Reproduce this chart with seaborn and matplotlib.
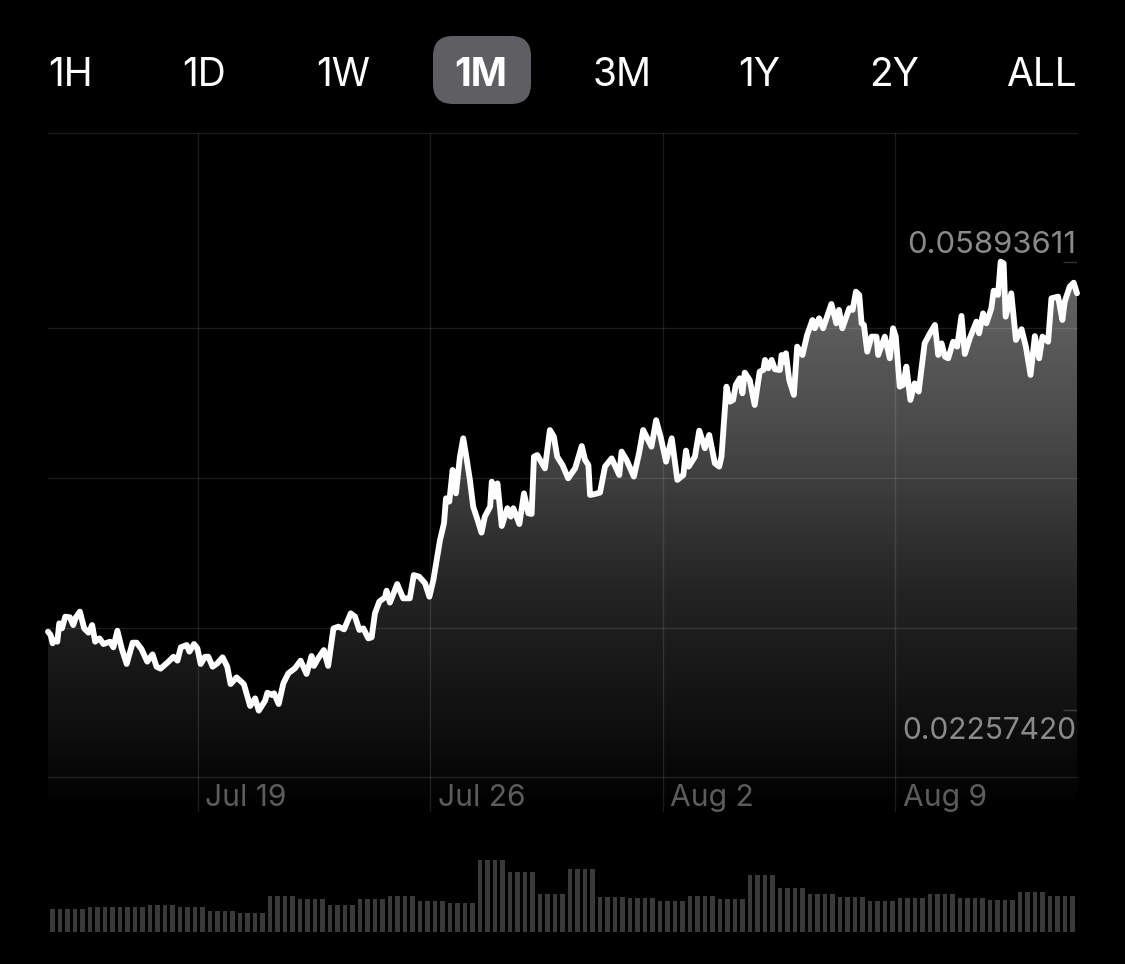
import numpy as np
import matplotlib
matplotlib.use('Agg')
import matplotlib.pyplot as plt
from matplotlib.colors import LinearSegmentedColormap
from matplotlib.patches import FancyBboxPatch
import seaborn as sns

# range buttons across the top
range_labels = ['1H', '1D', '1W', '1M', '3M', '1Y', '2Y', 'ALL']
selected_range = '1M'

# days since Jul 19
days = [
    -4.52, -4.44, -4.38, -4.32, -4.24, -4.18, -4.10, -4.00, -3.86, -3.76, -3.68, -3.56, -3.43, -3.30,
    -3.19, -3.10, -2.97, -2.85, -2.65, -2.55, -2.43, -2.30, -2.15, -1.97, -1.85, -1.70, -1.53, -1.37,
    -1.25, -1.13, -0.89, -0.74, -0.62, -0.52, -0.34, -0.26, -0.12, -0.02, 0.08, 0.21, 0.31, 0.44,
    0.58, 0.74, 0.88, 0.98, 1.16, 1.38, 1.57, 1.72, 1.83, 2.02, 2.09, 2.22, 2.29, 2.43, 2.57, 2.72,
    2.92, 3.09, 3.27, 3.42, 3.49, 3.62, 3.79, 3.92, 4.08, 4.23, 4.40, 4.60, 4.73, 4.86, 4.98, 5.13,
    5.23, 5.33, 5.46, 5.63, 5.68, 5.78, 6.00, 6.18, 6.38, 6.50, 6.66, 6.84, 6.97, 7.09, 7.19, 7.29,
    7.41, 7.47, 7.57, 7.67, 7.77, 7.89, 7.99, 8.09, 8.19, 8.29, 8.39, 8.54, 8.64, 8.80, 8.85, 8.95,
    9.02, 9.15, 9.32, 9.42, 9.50, 9.68, 9.82, 9.95, 10.05, 10.12, 10.22, 10.45, 10.60, 10.72, 10.82,
    10.98, 11.15, 11.36, 11.56, 11.66, 11.76, 11.81, 11.96, 12.11, 12.26, 12.46, 12.69, 12.76, 12.91,
    13.13, 13.29, 13.41, 13.66, 13.80, 13.94, 14.10, 14.27, 14.44, 14.62, 14.70, 14.78, 14.97, 15.10,
    15.27, 15.40, 15.57, 15.70, 15.77, 15.92, 16.02, 16.12, 16.20, 16.32, 16.40, 16.47, 16.62, 16.77,
    16.92, 17.03, 17.08, 17.18, 17.28, 17.38, 17.53, 17.58, 17.65, 17.71, 17.81, 17.95, 18.05, 18.21,
    18.35, 18.51, 18.58, 18.71, 18.83, 19.08, 19.23, 19.31, 19.41, 19.62, 19.72, 19.82, 19.92, 19.99,
    20.06, 20.16, 20.29, 20.44, 20.49, 20.69, 20.84, 20.94, 21.02, 21.14, 21.24, 21.34, 21.46, 21.59,
    21.71, 21.89, 22.05, 22.20, 22.30, 22.40, 22.50, 22.60, 22.75, 22.87, 23.00, 23.10, 23.25, 23.45,
    23.53, 23.65, 23.75, 23.90, 23.97, 24.10, 24.18, 24.27, 24.33, 24.50, 24.64, 24.81, 24.94, 25.08,
    25.21, 25.34, 25.44, 25.61, 25.71, 25.91, 26.04, 26.11, 26.26, 26.38, 26.48,
]

# price x 1000
prices = [
    28.93, 28.66, 27.99, 28.26, 28.12, 29.61, 29.20, 30.15, 30.10, 29.47, 30.10, 30.56, 29.20, 28.85,
    29.47, 28.12, 28.39, 27.93, 28.12, 27.66, 29.01, 27.58, 26.31, 28.04, 28.04, 27.50, 26.50, 27.09,
    26.09, 25.93, 26.50, 26.90, 26.58, 27.66, 27.85, 27.31, 27.93, 27.58, 26.31, 26.90, 26.90, 26.09,
    26.36, 26.85, 26.09, 24.68, 25.22, 24.68, 22.90, 23.52, 22.52, 23.33, 23.98, 23.79, 23.93, 23.06, 24.74, 25.55,
    25.96, 26.58, 25.50, 26.96, 26.15, 26.77, 27.44, 26.15, 29.20, 29.34, 29.12, 30.42, 30.15, 29.07, 29.20, 28.39,
    28.47, 30.42, 31.37, 31.72, 32.26, 31.29, 32.80, 31.64, 31.64, 33.53, 33.40, 32.86, 31.77, 33.13, 34.75, 36.37,
    37.73, 39.76, 39.49, 42.06, 40.16, 43.14, 44.63, 43.00, 41.25, 39.08, 38.27, 36.97, 38.27, 39.08, 41.11, 39.89,
    40.97, 37.51, 38.95, 38.27, 38.95, 37.67, 40.16, 38.54, 38.49, 43.14, 43.27, 42.19, 45.30, 44.76, 43.14,
    42.46, 41.38, 42.19, 44.00, 42.87, 42.46, 40.03, 40.11, 40.22, 42.33, 43.00, 41.65, 43.55, 42.87,
    41.52, 43.46, 45.30, 43.95, 46.10, 44.71, 42.73, 44.63, 41.25, 41.65, 43.63, 42.33, 43.14, 45.25,
    43.82, 44.90, 42.60, 42.33, 43.14, 48.82, 47.60, 47.74, 48.96, 49.50, 48.28, 49.96, 49.36, 47.33,
    50.04, 50.17, 50.99, 50.31, 50.99, 50.23, 50.17, 51.39, 50.85, 51.53, 49.36, 48.15, 52.07, 51.39,
    53.02, 54.23, 53.56, 54.37, 53.56, 55.53, 53.96, 55.05, 53.56, 55.18, 55.05, 56.53, 56.26, 53.96,
    53.83, 51.66, 52.88, 52.88, 51.39, 52.88, 51.12, 53.56, 52.88, 48.82, 48.96, 50.45, 47.74, 49.09,
    48.42, 52.34, 53.15, 53.83, 51.39, 52.34, 51.26, 51.12, 52.47, 52.07, 54.56, 51.47, 52.75, 54.10,
    53.15, 54.77, 53.96, 55.18, 56.61, 56.26, 58.97, 58.83, 54.50, 56.40, 52.61, 53.48, 52.07, 49.77,
    52.93, 51.12, 52.88, 52.47, 55.99, 56.13, 54.23, 55.72, 56.94, 57.26, 56.40,
]

# volume comes in runs of equal bars
volume_levels = [
    23.0, 24.6, 25.3, 27.0, 25.3, 21.2, 19.5, 36.2, 33.0, 27.0, 33.0, 36.5, 30.7, 28.7, 72.0, 60.0, 38.0,
    63.0, 35.5, 34.0, 31.0, 36.0, 32.8, 56.6, 44.4, 38.0, 35.0, 31.4, 34.5, 38.0, 34.0, 32.0, 40.0, 36.0,
]
volume_runs = [5] + [4] * 33

# labels
grid_days = [0, 7, 14, 21]
day_labels = ['Jul 19', 'Jul 26', 'Aug 2', 'Aug 9']
grid_prices = [17.14, 29.23, 41.40, 53.58, 69.41]
high_price = 58.936
low_price = 22.574
high_label = '0.05893611'
low_label = '0.02257420'

W, H = 1125, 964


def px_axes(fig, left, top, right, bottom):
    return fig.add_axes([left / W, 1 - bottom / H, (right - left) / W, (bottom - top) / H])


sns.set_theme(style='dark', rc={'axes.facecolor': 'black', 'figure.facecolor': 'black'})
plt.rcParams['font.family'] = ['Inter', 'DejaVu Sans']

fig = plt.figure(figsize=(W / 100, H / 100), dpi=100)

# price chart
ax = px_axes(fig, 48, 133, 1077, 812)
ax.set_xlim(days[0], days[-1])
ax.set_ylim(14.295, 69.41)

shade = LinearSegmentedColormap.from_list('shade', [
    (0.0, '#000000'), (0.135, '#101010'), (0.327, '#242424'),
    (0.563, '#4a4a4a'), (0.798, '#666666'), (1.0, '#747474')])
img = ax.imshow(np.linspace(1, 0, 256).reshape(-1, 1), cmap=shade, vmin=0, vmax=1, aspect='auto',
                extent=[days[0], days[-1], 14.295, 69.41], zorder=1)
area = ax.fill_between(days, prices, 14.295, color='none', zorder=1)
img.set_clip_path(area.get_paths()[0], transform=ax.transData)

for d in grid_days:
    ax.axvline(d, color='white', alpha=0.11, lw=1.0, zorder=2)
for p in grid_prices:
    ax.axhline(p, color='white', alpha=0.11, lw=1.0, zorder=2, clip_on=False)

sns.lineplot(x=days, y=prices, ax=ax, color='white', lw=4.2, sort=False, zorder=3, clip_on=False,
             solid_joinstyle='round', solid_capstyle='round')

# short marks for the high and low
ax.hlines([high_price, low_price], days[-1] - 0.42, days[-1], color='white', alpha=0.2, lw=1.0, zorder=2)
ax.set_xticks([])
ax.set_yticks([])
ax.set_xlabel('')
ax.set_ylabel('')
for spine in ax.spines.values():
    spine.set_visible(False)

# volume bars
ax_vol = px_axes(fig, 48, 850, 1077, 932)
bar_idx = np.arange(sum(volume_runs))
volume = np.repeat(volume_levels, volume_runs)
sns.barplot(x=bar_idx, y=volume, ax=ax_vol, color='#3a3a3a', saturation=1, width=0.66, native_scale=True,
            linewidth=0, edgecolor='none')
ax_vol.set_xlim(-0.6, bar_idx[-1] + 0.6)
ax_vol.set_ylim(0, 82)
ax_vol.set_xticks([])
ax_vol.set_yticks([])
ax_vol.set_xlabel('')
ax_vol.set_ylabel('')
ax_vol.patch.set_alpha(0)
for spine in ax_vol.spines.values():
    spine.set_visible(False)

# overlay in pixels for the buttons and text
over = fig.add_axes([0, 0, 1, 1], facecolor='none')
over.set_xlim(0, W)
over.set_ylim(H, 0)
over.axis('off')

over.add_patch(FancyBboxPatch((453, 56), 58, 28, boxstyle='round,pad=20,rounding_size=20',
                              fc='#5f5f63', ec='none'))
button_x = [71, 204, 343, 481, 622, 759, 894, 1041]
for label, x in zip(range_labels, button_x):
    on = label == selected_range
    over.text(x, 75, label, color='white', fontsize=28, ha='center', va='center',
              fontweight='bold' if on else 'normal')

over.text(1076, 245, high_label, color='#8a8a8a', fontsize=22.3, ha='right', va='center')
over.text(1076, 731, low_label, color='#8a8a8a', fontsize=21.5, ha='right', va='center')

for label, x in zip(day_labels, [205, 438, 670, 903]):
    over.text(x, 798, label, color='#5c5c5c', fontsize=21.6, ha='left', va='center')

plt.savefig('out.png', dpi=100, facecolor='black')
plt.close()
